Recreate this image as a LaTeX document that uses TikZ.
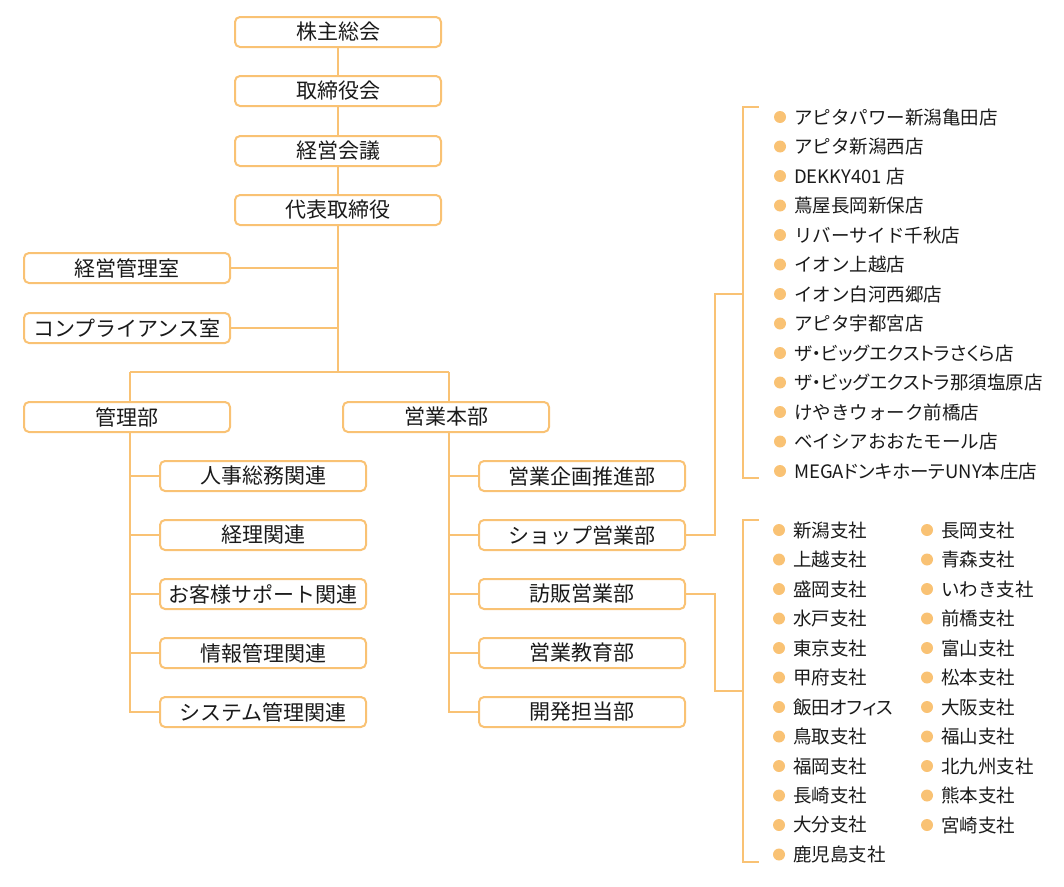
\documentclass[tikz,border=0pt]{standalone}
\usepackage{fontspec}
\setmainfont{Noto Sans CJK JP}
\definecolor{org}{HTML}{F9C274}
\definecolor{txt}{HTML}{1A1A1A}
\newcommand{\pk}[1]{{\addfontfeature{RawFeature=+palt}#1}}
\begin{document}
\begin{tikzpicture}[x=1pt,y=-1pt,
  box/.style={draw=org, line width=2pt, rounded corners=5pt, minimum width=206pt, minimum height=30pt, inner sep=0pt, font=\fontsize{21}{21}\selectfont, text=txt},
  ln/.style={draw=org, line width=1.8pt},
  item/.style={anchor=west, inner sep=0pt, font=\fontsize{18.5}{18.5}\selectfont, text=txt},
  dot/.style={circle, fill=org, inner sep=0pt, minimum size=12pt}]
\useasboundingbox (0,0) rectangle (1064,886);
% top spine
\node[box] (s1) at (338,32) {株主総会};
\node[box] (s2) at (338,91) {取締役会};
\node[box] (s3) at (338,151) {経営会議};
\node[box] (s4) at (338,210) {代表取締役};
\node[box] (k1) at (127,268) {経営管理室};
\node[box] (k2) at (127,328) {コンプライアンス室};
\node[box] (kanri) at (127,417) {管理部};
\node[box] (eigyo) at (446,417) {営業本部};
\draw[ln] (s1) -- (s2);
\draw[ln] (s2) -- (s3);
\draw[ln] (s3) -- (s4);
\coordinate (j) at (338,372);
\coordinate (jL) at (130,372);
\coordinate (jR) at (449,372);
\draw[ln] (s4.south) -- (j);
\draw[ln] (k1.east) -- (k1.east -| j);
\draw[ln] (k2.east) -- (k2.east -| j);
\draw[ln] (jL) -- (jR);
\draw[ln] (jL) -- (jL |- kanri.north);
\draw[ln] (jR) -- (jR |- eigyo.north);
% kanri children
\node[box] (a1) at (263,476) {人事総務関連};
\node[box] (a2) at (263,535) {経理関連};
\node[box] (a3) at (263,594) {お客様サポート関連};
\node[box] (a4) at (263,653) {情報管理関連};
\node[box] (a5) at (263,712) {システム管理関連};
\draw[ln] (jL |- kanri.south) -- (jL |- a5.west) -- (a5.west);
\foreach \n in {a1,a2,a3,a4} \draw[ln] (jL |- \n.west) -- (\n.west);
% eigyo children
\node[box] (e1) at (582,476) {営業企画推進部};
\node[box] (e2) at (582,535) {ショップ営業部};
\node[box] (e3) at (582,594) {訪販営業部};
\node[box] (e4) at (582,653) {営業教育部};
\node[box] (e5) at (582,712) {開発担当部};
\draw[ln] (jR |- eigyo.south) -- (jR |- e5.west) -- (e5.west);
\foreach \n in {e1,e2,e3,e4} \draw[ln] (jR |- \n.west) -- (\n.west);
% bracket 1 (shops)
\coordinate (b1t) at (743,107);
\coordinate (b1b) at (743,478);
\coordinate (b1m) at (743,294);
\coordinate (v1) at (715,294);
\draw[ln] ([xshift=16pt]b1t) -- (b1t) -- (b1b) -- ([xshift=16pt]b1b);
\draw[ln] (e2.east) -- (e2.east -| v1) -- (v1) -- (b1m);
% bracket 2 (branches)
\coordinate (b2t) at (743,520);
\coordinate (b2b) at (743,862);
\coordinate (b2m) at (743,691);
\coordinate (v2) at (715,691);
\draw[ln] ([xshift=16pt]b2t) -- (b2t) -- (b2b) -- ([xshift=16pt]b2b);
\draw[ln] (e3.east) -- (e3.east -| v2) -- (v2) -- (b2m);
% shop list
\foreach \t [count=\i] in {アピタパワー新潟亀田店,アピタ新潟西店,DEKKY401 店,蔦屋長岡新保店,リバーサイド千秋店,イオン上越店,イオン白河西郷店,アピタ宇都宮店,\pk{ザ・ビッグエクストラさくら店},\pk{ザ・ビッグエクストラ那須塩原店},けやきウォーク前橋店,ベイシアおおたモール店,\pk{MEGAドンキホーテUNY本庄店}}{
  \node[dot] (sd\i) at (780,{117+(\i-1)*29.5}) {};
  \node[item] (st\i) at (794,{117+(\i-1)*29.5}) {\t};
}
% branch list col 1
\foreach \t [count=\i] in {新潟支社,上越支社,盛岡支社,水戸支社,東京支社,甲府支社,\pk{飯田オフィス},鳥取支社,福岡支社,長崎支社,大分支社,鹿児島支社}{
  \node[dot] (bd\i) at (779,{530+(\i-1)*29.5}) {};
  \node[item] (bt\i) at (793,{530+(\i-1)*29.5}) {\t};
}
% branch list col 2
\foreach \t [count=\i] in {長岡支社,青森支社,いわき支社,前橋支社,富山支社,松本支社,大阪支社,福山支社,北九州支社,熊本支社,宮崎支社}{
  \node[dot] (cd\i) at (927,{530+(\i-1)*29.5}) {};
  \node[item] (ct\i) at (941,{530+(\i-1)*29.5}) {\t};
}
\end{tikzpicture}
\end{document}
